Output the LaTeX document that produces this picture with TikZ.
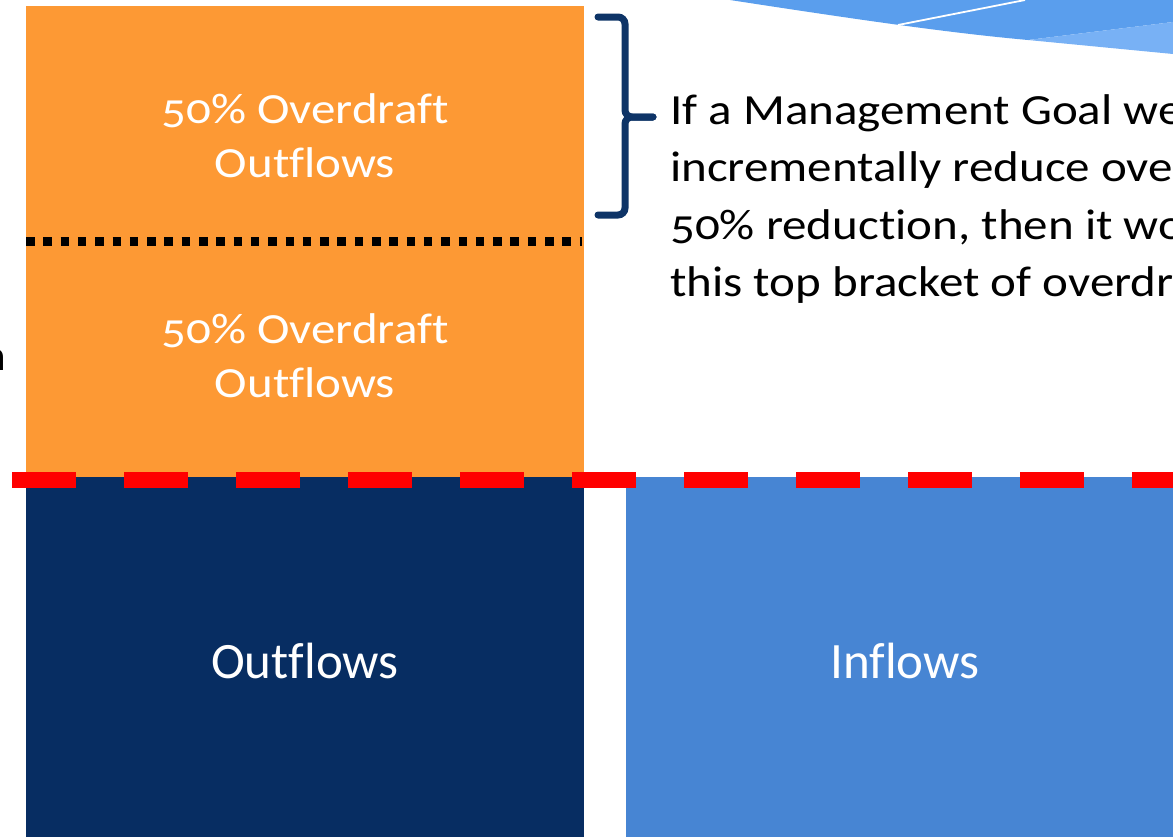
\documentclass[tikz,border=0pt]{standalone}
\usepackage{fontspec}
\setmainfont{Carlito}[Ligatures=NoCommon]
\newfontfamily\oldfig{Carlito}[Numbers=OldStyle, Ligatures=NoCommon, FakeStretch=1.14]
\newfontfamily\plainfig{Carlito}[Ligatures=NoCommon]
\definecolor{ovorange}{RGB}{253,153,52}
\definecolor{ovnavy}{RGB}{7,45,98}
\definecolor{inblue}{RGB}{71,133,211}
\definecolor{brnavy}{RGB}{14,52,103}
\definecolor{topblue}{RGB}{90,158,237}
\definecolor{topblight}{RGB}{120,177,245}
\definecolor{dashred}{RGB}{255,0,0}
\tikzset{
  block/.style={anchor=north west, inner sep=0pt, outer sep=0pt},
  boxtext/.style={font=\oldfig\fontsize{43}{52}\selectfont, text=white, anchor=base, inner sep=0pt},
  bigtext/.style={font=\plainfig\fontsize{51}{60}\selectfont, text=white, anchor=base, inner sep=0pt},
  sidetext/.style={font=\oldfig\fontsize{43}{52}\selectfont, text=black, anchor=base west, inner sep=0pt},
}
\begin{document}
\begin{tikzpicture}[x=1pt,y=-1pt]
\useasboundingbox (0,0) rectangle (1173,836);
\clip (0,0) rectangle (1173,836);
% top-right decorative shapes
\fill[topblue] (730,0) .. controls (860,20) and (950,33) .. (1028,40) -- (1173,22) -- (1173,0) -- cycle;
\fill[topblight] (1028,40) -- (1173,54) -- (1173,22) -- cycle;
\draw[white, line width=1.8pt] (898,25) -- (1025,0);
% blocks
\node[block, fill=ovorange, minimum width=558pt, minimum height=236pt] (otop) at (26,6) {};
\node[block, fill=ovorange, minimum width=558pt, minimum height=236pt] (obot) at (26,241) {};
\node[block, fill=ovnavy, minimum width=558pt, minimum height=360pt] (out) at (26,477) {};
\node[block, fill=inblue, minimum width=560pt, minimum height=360pt] (in) at (626,477) {};
% texts in blocks
\node[boxtext] (t1a) at (305,123) {50\% Overdraft};
\node[boxtext] (t1b) at (305,177) {Outflows};
\node[boxtext] (t2a) at (305,343) {50\% Overdraft};
\node[boxtext] (t2b) at (305,397) {Outflows};
\node[bigtext] (t3) at (305,678) {Outflows};
\node[bigtext] (t4) at (905,678) {Inflows};
% dotted divider
\coordinate (dl) at (26,241.5);
\coordinate (dr) at (582,241.5);
\draw[black, line width=8.5pt, dash pattern=on 8.5pt off 8.8pt] (dl) -- (dr);
% red dashed line
\coordinate (rl) at (12,480);
\coordinate (rr) at (1190,480);
\draw[dashred, line width=16pt, dash pattern=on 64pt off 48pt] (rl) -- (rr);
% bracket
\coordinate (b1) at (598,17);
\coordinate (bm) at (625,117);
\coordinate (bt) at (653,117);
\coordinate (b2) at (598,215);
\draw[brnavy, line width=7pt, rounded corners=7pt, line cap=round] (b1) -| (bm) -- (bt);
\draw[brnavy, line width=7pt, rounded corners=7pt, line cap=round] (bt) -- (bm) |- (b2);
% side text
\node[sidetext] (s1) at (670,124) {If a Management Goal we};
\node[sidetext] (s2) at (670,181.5) {incrementally reduce ove};
\node[sidetext] (s3) at (670,239) {50\% reduction, then it wo};
\node[sidetext] (s4) at (670,296.5) {this top bracket of overdr};
% clipped letter at left edge
\node[font=\fontsize{43}{52}\selectfont, anchor=base east, inner sep=0pt] (edge) at (6,370) {n};
\end{tikzpicture}
\end{document}
